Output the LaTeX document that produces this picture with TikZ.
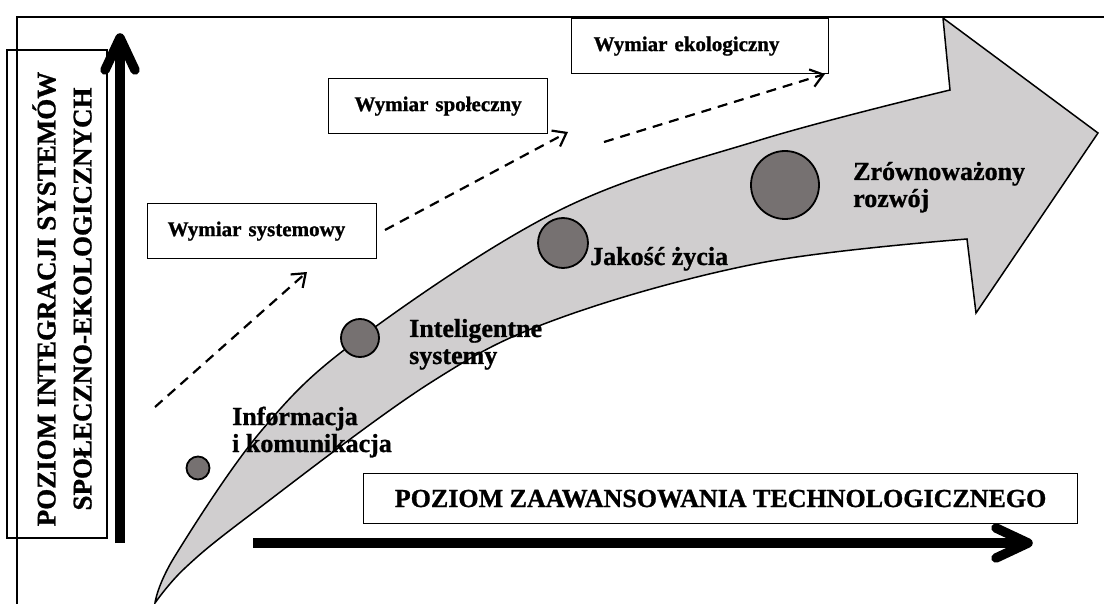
\documentclass[tikz,border=0pt]{standalone}
\usepackage{graphicx}
\usepackage{fontspec}
\setmainfont{Liberation Serif}[BoldFeatures={FakeBold=1}]
\usetikzlibrary{arrows.meta}
\definecolor{bandgray}{RGB}{208,206,207}
\definecolor{dotgray}{RGB}{118,113,113}

\begin{document}
\begin{tikzpicture}[x=1pt,y=-1pt,
  lbl/.style={font=\bfseries\fontsize{26}{27}\selectfont, inner sep=0pt, anchor=base west},
  dimbox/.style={draw, line width=1.2pt, inner ysep=0pt, anchor=north west, align=left,
    font=\bfseries\fontsize{21}{24}\selectfont},
  dot/.style={circle, draw, line width=1.8pt, fill=dotgray, inner sep=0pt},
  dimarrow/.style={line width=2.2pt, dash pattern=on 10pt off 7pt,
    -{Straight Barb[length=12pt,width=18pt]}},
  axisline/.style={line width=9.5pt},
  axishead/.style={line width=9.5pt, line cap=round, line join=round},
]
\useasboundingbox (0,0) rectangle (1104,604);

% frame (left and top edges)
\draw[line width=2pt] (17,604) -- (17,17) -- (1104,17);

% vertical axis label
\node[draw, line width=1.2pt, rotate=90, minimum width=488pt, minimum height=100pt,
      inner sep=0pt] (vbox) at (57,294) {};
\node[rotate=90, inner sep=0pt, align=center,
      font=\bfseries\fontsize{27}{36}\selectfont]
  (vlabel) at (62,299)
  {POZIOM INTEGRACJI SYSTEMÓW\\SPOŁECZNO-EKOLOGICZNYCH};

% horizontal axis label
\node[draw, line width=1.2pt, anchor=north west, minimum width=714pt, minimum height=50pt,
      inner sep=0pt, font=\bfseries\fontsize{26}{28}\selectfont]
  (hlabel) at (363,473) {POZIOM ZAAWANSOWANIA TECHNOLOGICZNEGO};

% axes
\coordinate (vbot) at (120,543);
\coordinate (vtip) at (120,38);
\coordinate (hbeg) at (253,543);
\coordinate (htip) at (1028,543);
\draw[axisline] (vbot) -- ([yshift=-3pt]vtip);
\draw[axishead] (vtip) ++(-15,32) -- (vtip) -- ++(15,32);
\draw[axisline] (hbeg) -- ([xshift=-3pt]htip);
\draw[axishead] (htip) ++(-32,-15) -- (htip) -- ++(-32,15);

% curved development arrow
\draw[line width=1.5pt, fill=bandgray, line join=miter]
  (155,603) -- plot[smooth, tension=0.6] coordinates
    {(155,603) (175,556) (262,430) (360,338) (560,210) (760,140) (950,90)}
  -- (943,18) -- (1098,133) -- (976,313) -- (967,239)
  -- plot[smooth, tension=0.6] coordinates
    {(967,239) (760,263) (560,318) (430,383) (250,515) (185,568) (155,603)}
  -- cycle;

% dimension boxes
\node[dimbox, minimum height=55pt, text width=189pt, inner xsep=20pt]
  (dsys) at (147,203) {Wymiar systemowy};
\node[dimbox, minimum height=55pt, text width=179pt, inner xsep=20pt, align=center]
  (dspo) at (328,78) {Wymiar społeczny};
\node[dimbox, minimum height=55pt, text width=213pt, inner xsep=22pt]
  (deko) at (571,18) {Wymiar ekologiczny};

% dashed progression arrows
\coordinate (s1) at (155,407);
\coordinate (e1) at (307,272);
\coordinate (s2) at (385,230);
\coordinate (e2) at (568,132);
\coordinate (s3) at (604,142);
\coordinate (e3) at (825,74);
\draw[dimarrow] (s1) -- (e1);
\draw[dimarrow] (s2) -- (e2);
\draw[dimarrow] (s3) -- (e3);

% stages
\node[dot, minimum size=23pt] (p1) at (198,468) {};
\node[dot, minimum size=38pt] (p2) at (360,338) {};
\node[dot, minimum size=50pt] (p3) at (563,243) {};
\node[dot, minimum size=68pt] (p4) at (785,185) {};

\node[lbl] (l1) at (232,425)
  {\begin{tabular}[t]{@{}l@{}}Informacja\\i komunikacja\end{tabular}};
\node[lbl] (l2) at (409,337)
  {\begin{tabular}[t]{@{}l@{}}Inteligentne\\systemy\end{tabular}};
\node[lbl] (l3) at (590,265) {Jakość życia};
\node[lbl] (l4) at (853,180)
  {\begin{tabular}[t]{@{}l@{}}Zrównoważony\\rozwój\end{tabular}};
\end{tikzpicture}
\end{document}
